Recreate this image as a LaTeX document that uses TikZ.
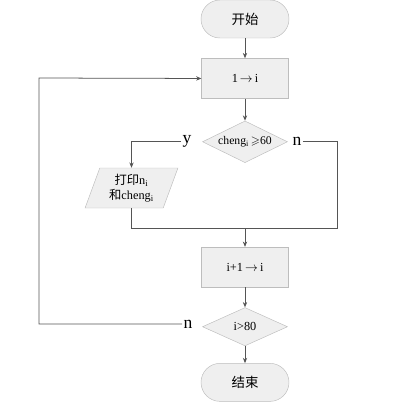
\documentclass[tikz,border=0pt]{standalone}
\usepackage{amsmath,amssymb}
\usepackage{fontspec}
\setmainfont{Liberation Serif}
\newfontfamily\cjk{Noto Sans CJK SC}
\usetikzlibrary{arrows.meta,positioning,shapes.geometric}
\definecolor{ink}{HTML}{555555}
\definecolor{edge}{HTML}{BDBDBD}
\definecolor{boxfill}{HTML}{EFEFEF}
\newcommand{\gives}{\,$\rightarrow$\,}

\begin{document}
\begin{tikzpicture}[x=0.03cm,y=-0.03cm,font=\fontsize{10.5}{12.5}\selectfont,
  >={Stealth[length=1.6mm,width=1.3mm]},
  term/.style={draw=edge,fill=boxfill,rounded corners=5.7mm,minimum width=2.64cm,
    minimum height=1.14cm,inner sep=1pt,font=\cjk\fontsize{11.5}{13}\selectfont},
  proc/.style={draw=edge,fill=boxfill,minimum width=2.6cm,minimum height=1.2cm,
    inner sep=1pt},
  cond/.style={draw=edge,fill=boxfill,diamond,aspect=2,inner sep=0pt,
    minimum width=2.55cm,minimum height=1.25cm},
  io/.style={draw=edge,fill=boxfill,trapezium,trapezium left angle=70,
    trapezium right angle=110,trapezium stretches=true,minimum width=2.79cm,
    minimum height=1.2cm,inner sep=1pt,align=center},
  flow/.style={->,draw=ink,line width=.65pt},
  wire/.style={draw=ink,line width=.65pt},
  lbl/.style={font=\fontsize{15}{18}\selectfont,inner sep=1pt}]
\useasboundingbox (0,0) rectangle (414,412);

% ---------- main column ----------
\node[term] (start) at (245,19) {开始};
\node[proc,below=6mm of start] (init) {1\gives i};
\node[cond,below=6.6mm of init,font=\fontsize{10}{12}\selectfont] (test)
  {cheng$_{\mathrm{i}}$\,$\geqslant$60};
\node[proc,below=25.2mm of test] (incr) {i+1\gives i};
\node[cond,below=6mm of incr,minimum height=1.15cm] (stop) {i\textgreater80};
\node[term,below=5.1mm of stop] (finish) {结束};

% ---------- side branch ----------
\node[io] (print) at (131.5,188) {{\cjk 打印}n$_{\mathrm{i}}$\\{\cjk 和}cheng$_{\mathrm{i}}$};
\node[lbl] (yes) at (187,141) {y};
\node[lbl] (no) at (297,141) {n};
\node[lbl] (again) at (188,324) {n};
\coordinate (mrg) at (245,228);
\coordinate (rgt) at (337,228);
\coordinate (lft) at (39,78);

% ---------- connectors ----------
\foreach \a/\b in {start/init,init/test,incr/stop,stop/finish}\draw[flow] (\a)--(\b);
\draw[flow] (yes.west) -| (print.north);
\draw[wire] (no.east) -| (rgt) -- (mrg);
\draw[wire] (print.south) |- (mrg);
\draw[flow] (mrg) -- (incr);
\draw[flow] (again.west) -| (lft) -- (init.west);

\end{tikzpicture}
\end{document}
